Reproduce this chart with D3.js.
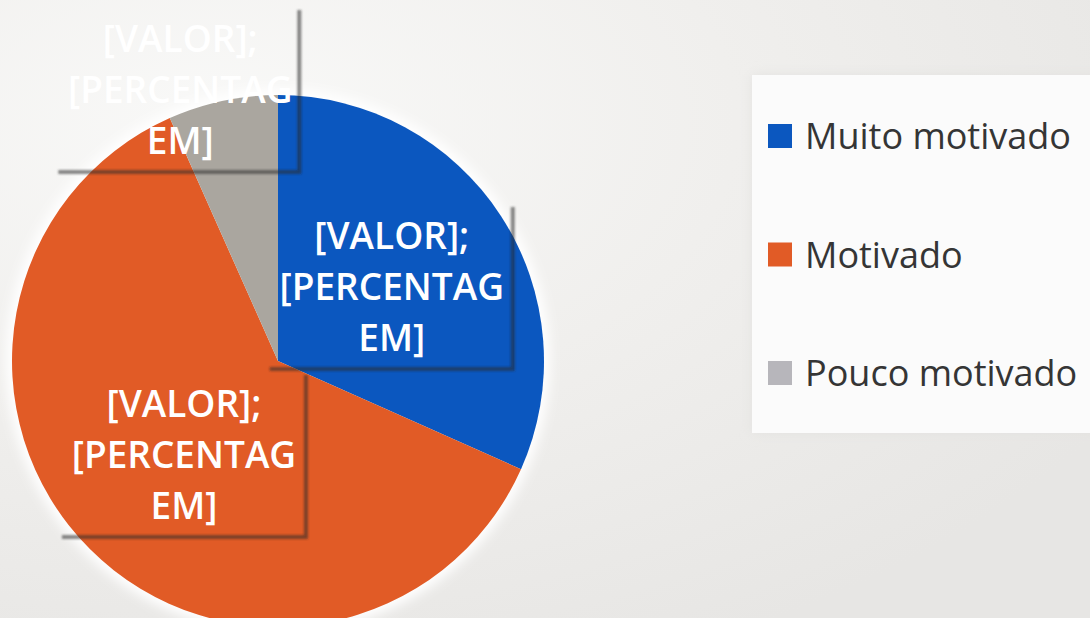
<!DOCTYPE html>
<html><head><meta charset="utf-8">
<script src="https://cdn.jsdelivr.net/npm/d3@7/dist/d3.min.js"></script>
<style>html,body{margin:0;padding:0;overflow:hidden;background:#eeedeb}</style>
</head><body>
<svg id="c" width="1090" height="618"></svg>
<script>
// ---- data ----
const categories = ["Muito motivado", "Motivado", "Pouco motivado"];
const values = [19, 37, 4];
const colors = ["#0b57bf", "#e15b26", "#aaa69f"];
const legendColors = ["#0b57bf", "#e15b26", "#b7b6bb"];
const labelLines = ["[VALOR];", "[PERCENTAG", "EM]"];

// ---- layout ----
const W = 1090, H = 618;
const cx = 278, cy = 361, R = 266;
const svg = d3.select("#c");
const defs = svg.append("defs");

const bg = defs.append("radialGradient").attr("id", "bg").attr("cx", "0.2").attr("cy", "0.2").attr("r", "0.95");
bg.append("stop").attr("offset", "0").attr("stop-color", "#f9f9f8");
bg.append("stop").attr("offset", "0.5").attr("stop-color", "#f0efed");
bg.append("stop").attr("offset", "1").attr("stop-color", "#e7e6e4");
svg.append("rect").attr("width", W).attr("height", H).attr("fill", "url(#bg)");

const blur = defs.append("filter").attr("id", "blur").attr("x", "-20%").attr("y", "-20%").attr("width", "140%").attr("height", "140%");
blur.append("feGaussianBlur").attr("stdDeviation", 6);
const sblur = defs.append("filter").attr("id", "sblur").attr("x", "-5%").attr("y", "-5%").attr("width", "110%").attr("height", "110%");
sblur.append("feGaussianBlur").attr("stdDeviation", 1);

// legend panel
const leg = svg.append("g");
leg.append("rect").attr("x", 752).attr("y", 75).attr("width", 350).attr("height", 358)
  .attr("fill", "#e3e2e0").attr("filter", "url(#blur)");
leg.append("rect").attr("x", 752).attr("y", 75).attr("width", 350).attr("height", 358).attr("fill", "#fbfbfb");

const g = svg.append("g").attr("transform", `translate(${cx},${cy})`);
// glow
g.append("circle").attr("r", R + 6).attr("fill", "#ffffff").attr("filter", "url(#blur)");

const pie = d3.pie().sort(null).value(d => d)(values);
const arc = d3.arc().innerRadius(0).outerRadius(R);
g.selectAll("path.slice").data(pie).join("path").attr("class", "slice")
  .attr("d", arc).attr("fill", (d, i) => colors[i]);

// labels
const labelRadius = [0.51, 0.50, 1.08];
const labelShift = [[0, 0], [0, 0], [-38, 10]];
const boxRight = [120, 121, 118];
const lineH = 51, boxW = 240;
pie.forEach((d, i) => {
  const k = labelRadius[i] * R;
  const c = d3.arc().innerRadius(k).outerRadius(k).centroid(d);
  const x = c[0] + labelShift[i][0], y = c[1] + labelShift[i][1];
  const lg = g.append("g").attr("transform", `translate(${x},${y})`);
  const top = -80, bot = 81, l = -boxW / 2 - 2, r = boxRight[i];
  lg.append("path")
    .attr("d", `M${l},${bot + 1}H${r + 1}V${top}`)
    .attr("fill", "none").attr("stroke", "rgba(40,40,40,0.55)").attr("stroke-width", 4)
    .attr("filter", "url(#sblur)");
  const t = lg.append("text").attr("text-anchor", "middle")
    .attr("font-family", "Open Sans").attr("font-size", 37).attr("font-weight", 600)
    .attr("fill", "#ffffff");
  labelLines.forEach((s, j) => {
    t.append("tspan").attr("x", 0).attr("y", (j - 1) * lineH + 13).text(s);
  });
});

// legend entries
const ly = d3.scalePoint().domain(categories).range([136, 373]);
categories.forEach((c, i) => {
  leg.append("rect").attr("x", 768).attr("y", ly(c) - 12).attr("width", 24).attr("height", 24).attr("fill", legendColors[i]);
  leg.append("text").attr("x", 805).attr("y", ly(c) + 13)
    .attr("font-family", "Open Sans").attr("font-size", 36).attr("fill", "#353535").text(c);
});
</script>
</body></html>
